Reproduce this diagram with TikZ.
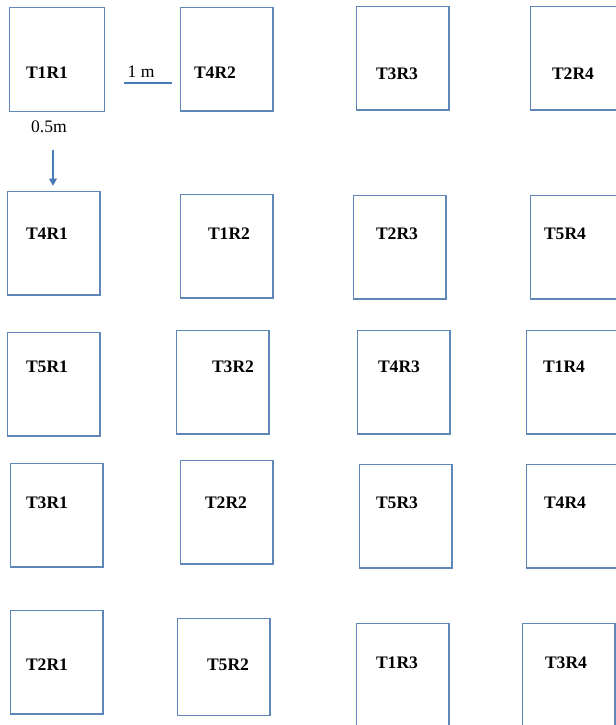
\documentclass[tikz,border=0pt]{standalone}
\usepackage{fontspec}
\setmainfont{Liberation Serif}
\usepackage{tikz}
\usetikzlibrary{positioning,arrows.meta}

\definecolor{borde}{HTML}{5E86B9}
\definecolor{azul}{HTML}{4A7AB5}

\begin{document}
\begin{tikzpicture}[
    x=0.02cm, y=-0.02cm,
    parcela/.style={
        draw=borde,
        line width=0.7pt,
        anchor=north west,
        inner sep=0pt,
        minimum width=1.85cm,
        minimum height=2.07cm
    },
    ancha/.style={parcela, minimum width=2.2cm},
    etiqueta/.style={font=\bfseries\fontsize{10}{12}\selectfont, inner sep=0pt},
    medida/.style={font=\fontsize{10}{12}\selectfont, inner sep=0pt},
    flecha/.style={-{Triangle[length=1.5mm,width=1.5mm]},draw=azul,line width=1.5pt},
    escala/.style={draw=azul,line width=1.2pt}
]
\useasboundingbox (0,0) rectangle (616,725);

% fila 1
\node[parcela, minimum width=1.9cm, minimum height=2.08cm] (p11) at (9,7) {};
\node[parcela] (p12) at (180,7) {};
\node[parcela] (p13) at (356,6) {};
\node[ancha] (p14) at (530,6) {};
\node[etiqueta] (t11) at (47,73) {T1R1};
\node[etiqueta] (t12) at (215,73) {T4R2};
\node[etiqueta] (t13) at (397,74) {T3R3};
\node[etiqueta] (t14) at (573,74) {T2R4};

% fila 2
\node[parcela] (p21) at (7,191) {};
\node[parcela] (p22) at (180,194) {};
\node[parcela] (p23) at (353,195) {};
\node[ancha] (p24) at (530,195) {};
\node[etiqueta] (t21) at (47,234) {T4R1};
\node[etiqueta] (t22) at (229,234) {T1R2};
\node[etiqueta] (t23) at (397,234) {T2R3};
\node[etiqueta] (t24) at (565,234) {T5R4};

% fila 3
\node[parcela] (p31) at (7,332) {};
\node[parcela] (p32) at (176,330) {};
\node[parcela] (p33) at (357,330) {};
\node[ancha] (p34) at (526,330) {};
\node[etiqueta] (t31) at (47,367) {T5R1};
\node[etiqueta] (t32) at (233,367) {T3R2};
\node[etiqueta] (t33) at (399,367) {T4R3};
\node[etiqueta] (t34) at (564,367) {T1R4};

% fila 4
\node[parcela] (p41) at (10,463) {};
\node[parcela] (p42) at (180,460) {};
\node[parcela] (p43) at (359,464) {};
\node[ancha] (p44) at (526,464) {};
\node[etiqueta] (t41) at (47,503) {T3R1};
\node[etiqueta] (t42) at (226,503) {T2R2};
\node[etiqueta] (t43) at (397,503) {T5R3};
\node[etiqueta] (t44) at (565,503) {T4R4};

% fila 5
\node[parcela] (p51) at (10,610) {};
\node[parcela, minimum height=1.94cm] (p52) at (177,618) {};
\node[parcela, minimum height=2.2cm] (p53) at (356,623) {};
\node[parcela, minimum height=2.2cm] (p54) at (522,623) {};
\node[etiqueta] (t51) at (47,665) {T2R1};
\node[etiqueta] (t52) at (228,665) {T5R2};
\node[etiqueta] (t53) at (397,663) {T1R3};
\node[etiqueta] (t54) at (566,663) {T3R4};

% distancias
\node[medida] (m1) at (141,72) {1 m};
\node[medida] (m05) at (49,127) {0.5m};
\coordinate (e1) at (124,83);
\coordinate (e2) at (172,83);
\draw[escala] (e1) -- (e2);
\coordinate (f1) at (53,150);
\coordinate (f2) at (53,186);
\draw[flecha] (f1) -- (f2);

\end{tikzpicture}
\end{document}
